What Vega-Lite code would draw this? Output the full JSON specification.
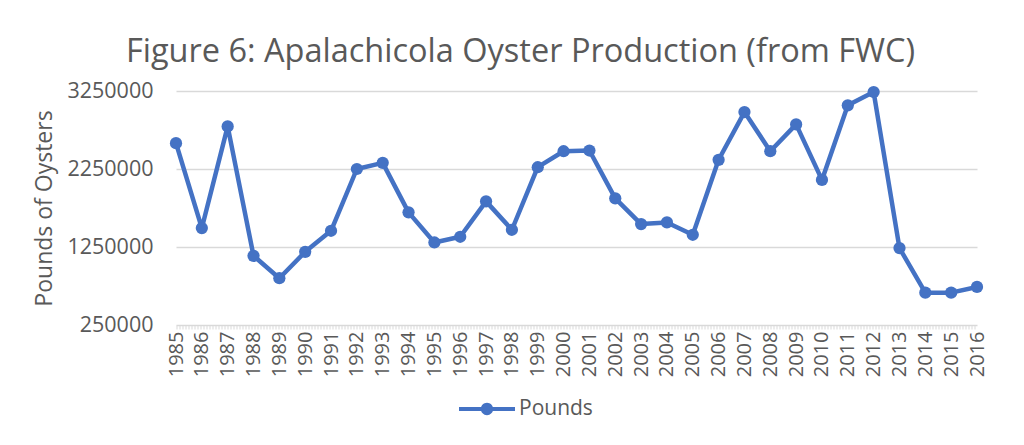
{
  "$schema": "https://vega.github.io/schema/vega-lite/v6.json",
  "width": 801,
  "height": 234,
  "autosize": "none",
  "padding": {"left": 176, "top": 91, "right": 47, "bottom": 120},
  "background": "white",
  "title": {
    "text": "Figure 6: Apalachicola Oyster Production (from FWC)",
    "anchor": "middle",
    "frame": "group",
    "dx": -56,
    "offset": 12,
    "font": "Open Sans",
    "fontSize": 32.5,
    "fontWeight": "normal",
    "color": "#595959"
  },
  "data": {
    "values": [
      {"year": "1985", "pounds": 2581000},
      {"year": "1986", "pounds": 1493000},
      {"year": "1987", "pounds": 2796000},
      {"year": "1988", "pounds": 1137000},
      {"year": "1989", "pounds": 850000},
      {"year": "1990", "pounds": 1188000},
      {"year": "1991", "pounds": 1458000},
      {"year": "1992", "pounds": 2250000},
      {"year": "1993", "pounds": 2329000},
      {"year": "1994", "pounds": 1694000},
      {"year": "1995", "pounds": 1308000},
      {"year": "1996", "pounds": 1381000},
      {"year": "1997", "pounds": 1835000},
      {"year": "1998", "pounds": 1471000},
      {"year": "1999", "pounds": 2273000},
      {"year": "2000", "pounds": 2478000},
      {"year": "2001", "pounds": 2487000},
      {"year": "2002", "pounds": 1874000},
      {"year": "2003", "pounds": 1544000},
      {"year": "2004", "pounds": 1565000},
      {"year": "2005", "pounds": 1407000},
      {"year": "2006", "pounds": 2368000},
      {"year": "2007", "pounds": 2980000},
      {"year": "2008", "pounds": 2478000},
      {"year": "2009", "pounds": 2822000},
      {"year": "2010", "pounds": 2110000},
      {"year": "2011", "pounds": 3066000},
      {"year": "2012", "pounds": 3237000},
      {"year": "2013", "pounds": 1236000},
      {"year": "2014", "pounds": 665000},
      {"year": "2015", "pounds": 665000},
      {"year": "2016", "pounds": 738000}
    ]
  },
  "encoding": {
    "x": {
      "field": "year",
      "type": "ordinal",
      "scale": {"type": "point", "padding": 0},
      "axis": {
        "title": null,
        "labelAngle": -90,
        "labelFont": "Open Sans",
        "labelFontSize": 20,
        "labelColor": "#595959",
        "labelPadding": 4,
        "ticks": false,
        "domainColor": "#d9d9d9",
        "domainWidth": 4,
        "domainDash": [1, 2],
        "offset": 2,
        "grid": false
      }
    },
    "y": {
      "field": "pounds",
      "type": "quantitative",
      "scale": {"domain": [250000, 3250000], "nice": false, "zero": false},
      "axis": {
        "title": "Pounds of Oysters",
        "titleFont": "Open Sans",
        "titleFontSize": 23,
        "titleFontWeight": "normal",
        "titleColor": "#595959",
        "titlePadding": 10,
        "values": [250000, 1250000, 2250000, 3250000],
        "format": "d",
        "labelFont": "Open Sans",
        "labelFontSize": 21.5,
        "labelColor": "#595959",
        "labelPadding": 23,
        "ticks": false,
        "domain": false,
        "grid": true,
        "gridColor": "#d9d9d9",
        "gridWidth": 1.3
      }
    },
    "color": {
      "datum": "Pounds",
      "type": "nominal",
      "scale": {"range": ["#4472C4"]},
      "legend": {
        "title": null,
        "orient": "none",
        "legendX": 283,
        "legendY": 290,
        "labelFont": "Open Sans",
        "labelFontSize": 21,
        "labelColor": "#595959",
        "labelOffset": 4,
        "symbolType": "M-1,-0.075L1,-0.075L1,0.075L-1,0.075Z M0.22,0A0.22,0.22,0,1,1,-0.22,0A0.22,0.22,0,1,1,0.22,0Z",
        "symbolSize": 3136,
        "symbolFillColor": "#4472C4",
        "symbolStrokeColor": "transparent",
        "symbolStrokeWidth": 0,
        "encode": {
          "symbols": {
            "update": {
              "fill": {"value": "#4472C4"},
              "stroke": {"value": "transparent"},
              "strokeWidth": {"value": 0},
              "opacity": {"value": 1}
            }
          }
        }
      }
    }
  },
  "layer": [
    {"mark": {"type": "line", "strokeWidth": 4.5, "strokeJoin": "round"}},
    {"mark": {"type": "point", "shape": "circle", "filled": true, "size": 150, "opacity": 1}}
  ],
  "config": {"view": {"stroke": null}}
}
